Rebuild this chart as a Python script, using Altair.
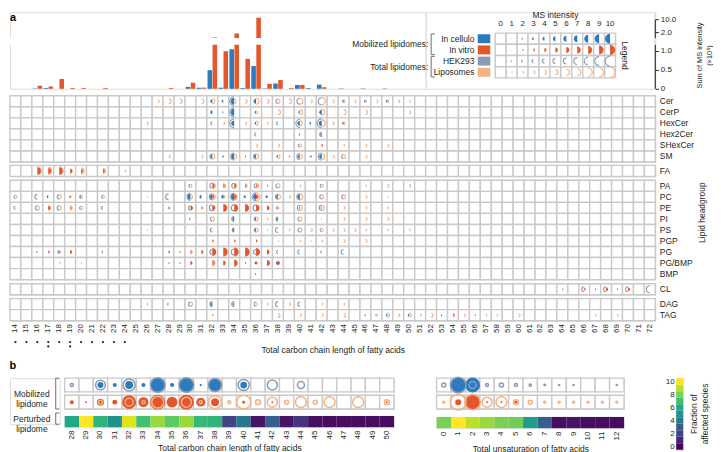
import altair as alt
import pandas as pd

# ------------------------------------------------------------------ data
CARBONS = list(range(14, 73))
GROUPS = [
    ["Cer", "CerP", "HexCer", "Hex2Cer", "SHexCer", "SM"],
    ["FA"],
    ["PA", "PC", "PE", "PI", "PS", "PGP", "PG", "PG/BMP", "BMP"],
    ["CL"],
    ["DAG", "TAG"],
]

# summed MS intensity (x10^8) per total carbon length
BAR_CELLULO = {16: 0.01, 17: 0.02, 30: 0.05, 31: 0.03, 32: 0.49, 33: 0.03, 34: 1.04, 35: 0.02,
               36: 0.60, 37: 0.01, 38: 0.14, 40: 0.10, 41: 0.02, 42: 0.11, 44: 0.01, 46: 0.01, 48: 0.01}
BAR_VITRO = {16: 0.08, 17: 0.06, 18: 0.26, 19: 0.02, 20: 0.02, 22: 0.02, 28: 0.02, 30: 0.16,
             31: 0.03, 32: 1.56, 33: 0.99, 34: 1.91, 35: 0.79, 36: 10.9, 37: 0.13, 38: 0.23,
             39: 0.02, 40: 0.10, 42: 0.04}
BAR_TICKS = [0, 0.5, 1, 2, 10]
AXIS_SEGMENTS = [(0, 1.16), (1.5, 10)]   # broken y axis

# MS intensity level (0-10) per headgroup and carbon length
CELLULO = {
    "Cer": [(32, 4), (33, 3), (34, 7), (36, 5), (44, 3), (46, 3), (48, 3)],
    "CerP": [(32, 4), (33, 2), (34, 7), (36, 3), (40, 3), (42, 5)],
    "HexCer": [(34, 6), (36, 3), (40, 5), (41, 3), (42, 6), (44, 3)],
    "Hex2Cer": [(40, 2), (42, 3)],
    "SM": [(32, 4), (33, 2), (34, 6), (36, 4), (38, 3), (40, 4), (41, 2), (42, 5)],
    "PC": [(17, 3), (19, 2), (20, 2), (30, 6), (31, 4), (32, 5), (33, 4), (34, 7), (35, 3),
           (36, 6), (37, 3), (38, 4), (40, 5)],
    "PE": [(40, 2), (42, 2)],
    "PI": [(34, 4), (36, 3), (38, 4), (42, 1)],
    "PS": [(34, 4), (36, 3)],
    "PG": [(16, 2)],
    "PG/BMP": [(36, 3), (38, 4)],
    "BMP": [(36, 2)],
    "DAG": [(32, 4), (34, 3)],
    "TAG": [(46, 2), (47, 2), (48, 3), (50, 3), (53, 2)],
}
VITRO = {
    "SHexCer": [(42, 3)],
    "SM": [(33, 2), (35, 2), (39, 2), (41, 2)],
    "FA": [(16, 8), (17, 6), (18, 8), (19, 5), (20, 4), (22, 4)],
    "PA": [(32, 5), (33, 4), (34, 5), (35, 3), (36, 3), (37, 2)],
    "PC": [(19, 2), (32, 4), (33, 3), (34, 5), (35, 2), (36, 5), (37, 2)],
    "PE": [(17, 5), (19, 3), (28, 3), (30, 5), (31, 3), (32, 6), (33, 8), (34, 8), (35, 8),
           (36, 7), (37, 5), (38, 2)],
    "PGP": [(32, 3), (34, 3), (36, 3)],
    "PG": [(17, 3), (18, 3), (19, 4), (28, 3), (29, 2), (30, 4), (31, 4), (32, 8), (33, 9),
           (34, 9), (35, 9), (36, 8), (37, 5)],
    "PG/BMP": [(28, 2), (29, 2), (30, 4), (32, 6), (33, 5), (34, 7), (35, 2), (36, 3), (37, 6), (38, 4)],
    "CL": [(64, 2), (66, 3), (67, 2), (68, 4), (69, 2), (70, 4)],
    "TAG": [(32, 2), (54, 4), (56, 2)],
}
HEK = {
    "Cer": [(34, 9), (38, 4), (40, 6), (42, 7)],
    "CerP": [(34, 9)],
    "HexCer": [(32, 3), (34, 9), (38, 3), (40, 8), (42, 9)],
    "Hex2Cer": [(36, 3), (42, 4)],
    "SHexCer": [(40, 3)],
    "SM": [(32, 5), (34, 7), (36, 5), (40, 6), (42, 7), (44, 4)],
    "PA": [(30, 3), (32, 5), (34, 5), (36, 4), (38, 4), (42, 3)],
    "PC": [(14, 3), (16, 5), (18, 4), (20, 3), (22, 3), (28, 6), (30, 7), (32, 6), (34, 7),
           (36, 8), (38, 5), (40, 6), (42, 4), (44, 4)],
    "PE": [(14, 3), (16, 4), (18, 4), (20, 3), (22, 3), (30, 4), (32, 6), (34, 6), (36, 6),
           (38, 3), (40, 5), (42, 5)],
    "PI": [(30, 2), (32, 4), (34, 5), (36, 4), (38, 4), (40, 4)],
    "PS": [(32, 4), (34, 4), (36, 4), (38, 5), (40, 4), (42, 3)],
    "PG": [(18, 3), (22, 2), (32, 5), (34, 6), (36, 5), (38, 3), (40, 4), (42, 2), (44, 5)],
    "CL": [(66, 5), (68, 5), (70, 5), (72, 7)],
    "DAG": [(28, 2), (30, 4), (32, 5), (34, 5), (36, 4), (38, 5), (40, 4)],
}
LIPO = {
    "Cer": [(27, 3), (28, 5), (29, 5), (31, 5), (32, 5), (34, 4), (35, 4), (36, 6), (37, 4),
            (38, 4), (39, 5), (40, 6), (41, 3), (42, 7), (43, 3), (44, 3), (45, 3), (46, 2),
            (47, 3), (48, 3), (49, 3), (50, 2)],
    "CerP": [(36, 3), (38, 5), (40, 5), (42, 6), (44, 5), (46, 4), (50, 3)],
    "HexCer": [(26, 3), (33, 3), (35, 3), (36, 4), (37, 2), (40, 5), (42, 7), (43, 3), (44, 3)],
    "SHexCer": [(36, 3), (38, 3), (40, 3), (44, 2), (46, 3), (48, 3)],
    "SM": [(28, 3), (31, 3), (32, 5), (34, 5), (36, 5), (38, 4), (40, 5), (42, 6), (43, 3),
           (44, 4), (46, 3)],
    "FA": [(16, 8), (17, 7), (18, 8), (20, 6), (22, 5), (24, 2)],
    "PA": [(30, 3), (32, 6), (33, 4), (34, 5), (35, 4), (36, 5), (38, 4), (40, 2), (42, 3),
           (46, 2), (48, 3), (50, 3)],
    "PC": [(14, 3), (18, 4), (19, 2), (20, 3), (22, 3), (26, 1), (30, 4), (32, 6), (33, 3),
           (34, 6), (36, 8), (38, 5), (39, 3), (40, 6), (42, 4), (44, 4), (46, 3), (48, 1)],
    "PE": [(16, 4), (18, 4), (19, 4), (20, 3), (40, 5), (42, 5), (44, 3), (46, 3), (48, 2)],
    "PI": [(32, 4), (36, 4), (37, 2), (40, 4), (44, 3), (46, 3), (48, 3)],
    "PS": [(26, 1), (36, 4), (37, 1), (39, 2), (40, 4), (41, 3), (42, 3), (43, 3), (44, 3),
           (45, 3), (46, 2), (48, 2), (50, 2)],
    "PGP": [(38, 1), (40, 2), (41, 1), (42, 2), (44, 3), (46, 3)],
    "PG": [(30, 3)],
    "PG/BMP": [(18, 2), (20, 1), (32, 4)],
    "DAG": [(26, 2), (30, 4), (36, 3), (37, 2), (39, 3), (42, 2), (44, 2)],
    "TAG": [(38, 4), (40, 3), (42, 3), (44, 4), (47, 2), (48, 4), (49, 3), (50, 4), (51, 2),
            (52, 4), (54, 3), (55, 3), (57, 2), (58, 2), (60, 3), (67, 2), (69, 2)],
}

DOT_CARBONS = list(range(14, 25))
DOUBLE_DOT_CARBONS = [17, 19]

LEG_LEVELS = list(range(0, 11))
LEG_LABELS = ["In cellulo", "In vitro", "HEK293", "Liposomes"]
LEG_GROUPS = ["Mobilized lipidomes:", "Total lipidomes:"]

# panel b
B_CARBON = list(range(28, 51))
B_C_CELLULO = [0, 0, 4, 2.7, 5.3, 2.7, 9.5, 2.7, 9.5, 1.5, 8.5, 0, 4.5, 0, 0, 0, 0, 0, 0, 0, 0, 0, 0]
B_C_HEK = [2, 0, 6.5, 0, 8, 0, 9.8, 0, 9.8, 0, 8.8, 0, 7.5, 0, 6.7, 0, 4.7, 0, 0, 0, 0, 0, 0]
B_C_VITRO = [2.7, 1.3, 4.7, 3.3, 9.3, 6.7, 10, 7.3, 10, 6, 5.3, 0, 2, 0, 1.3, 0, 0, 0, 0, 0, 0, 0, 1.3]
B_C_LIPO = [0, 0, 2.7, 0, 5.3, 2, 8, 0, 6.7, 2, 8.7, 2, 9.3, 3.3, 6.7, 2.7, 7.3, 2.7, 7.3, 0, 7.3, 0, 3.3]
B_C_HEAT = [6, 10, 6.5, 5, 9.5, 7, 8.5, 7.5, 8.5, 6.7, 6.5, 2, 4, 0.5, 3, 0.5, 1.5, 0.3, 0.3, 0.3, 0.3, 0.3, 0.3]

B_UNSAT = list(range(0, 13))
B_U_CELLULO = [0, 10, 10, 0, 0, 0, 0, 0, 0, 0, 0, 0, 0]
B_U_HEK = [2.7, 10.5, 4.7, 2, 2.7, 2, 1.5, 1, 0.8, 0.8, 0, 0, 0.8]
B_U_VITRO = [0, 4, 10, 1.3, 1.3, 2, 0, 0, 0, 0, 0, 0, 0]
B_U_LIPO = [1.3, 10.5, 10.3, 6.7, 7.3, 3.3, 2.7, 1.3, 1.3, 1.3, 1.3, 1.3, 1.3]
B_U_HEAT = [8, 10, 9, 8.5, 8, 7.8, 5.5, 3, 0.3, 0.5, 0.3, 0.3, 0.3]

# ------------------------------------------------------------------ style / layout
TXT = "#231f20"
GRID = "#c9c9c9"
BRC = "#6d6e71"
SERIES = ["cellulo", "vitro", "hek", "lipo"]
SERIES_COLORS = ["#2c7bbf", "#e4572e", "#8a9bb5", "#f4b183"]
LEFT_DISC = "M 0 -1 A 1 1 0 0 0 0 1 Z"
RIGHT_DISC = "M 0 -1 A 1 1 0 0 1 0 1 Z"
LEFT_ARC = "M 0 -1 A 1 1 0 0 0 0 1"
RIGHT_ARC = "M 0 -1 A 1 1 0 0 1 0 1"

CW = 11.0
W = CW * len(CARBONS)
RH = 11.1
TOP_H = 77
SPLIT = 51.5                       # bars drawn left of this carbon value, legend to the right
BARS_W = (SPLIT - (CARBONS[0] - 0.5)) * CW
LEG_W = W - BARS_W - 1

COLOR_S = alt.Scale(domain=SERIES, range=SERIES_COLORS)
SHAPE_S = alt.Scale(domain=SERIES, range=[LEFT_DISC, RIGHT_DISC, LEFT_ARC, RIGHT_ARC])
SIZE_A = alt.Scale(type="pow", exponent=2, domain=[0, 10], range=[0, 100])
SIZE_B = alt.Scale(type="pow", exponent=2, domain=[0, 10], range=[0, 225])
VIR = alt.Scale(scheme="viridis", domain=[0, 10])
XC_SCALE = alt.Scale(domain=CARBONS, paddingInner=0, paddingOuter=0)
XQ = alt.Scale(domain=[CARBONS[0] - 0.5, SPLIT], zero=False, nice=False)
# piecewise linear scale: broken bar axis (0..1.16 | 1.5..11)
YBAR = alt.Scale(domain=[0, 1.16, 1.5, 2, 10, 11], range=[77, 32.7, 26, 20.3, 7.3, 5.3],
                 zero=False, nice=False)
LX = alt.Scale(domain=[-0.5, 10.5], range=[488 - BARS_W, 609 - BARS_W], zero=False, nice=False)
LY = alt.Scale(domain=[0, 4], range=[21, 66], zero=False, nice=False)


def glyph_frame(rows):
    recs = []
    for key, table in (("cellulo", CELLULO), ("vitro", VITRO), ("hek", HEK), ("lipo", LIPO)):
        for row in rows:
            for c, lvl in table.get(row, []):
                recs.append({"row": row, "carbon": c, "series": key, "level": lvl})
    return pd.DataFrame(recs, columns=["row", "carbon", "series", "level"])


def XD(v):
    return alt.XDatum(v, type="quantitative", scale=LX, axis=None)


def YD(v):
    return alt.YDatum(v, type="quantitative", scale=LY, axis=None)


one = pd.DataFrame({"k": [0]})

# ------------------------------------------------------------------ top: bars
bar_df = pd.DataFrame(
    [{"carbon": c, "series": "cellulo", "value": v} for c, v in BAR_CELLULO.items()]
    + [{"carbon": c, "series": "vitro", "value": v} for c, v in BAR_VITRO.items()]
)
BAR_AXIS = alt.Axis(orient="right", values=BAR_TICKS,
                    labelExpr="datum.value == 0 ? '0' : format(datum.value, '.1f')",
                    tickSize=3, tickColor=TXT, domain=False, labelPadding=2, labelFontSize=8,
                    labelColor=TXT, grid=False,
                    title=["Sum of MS intensity", "(×10⁸)"], titleAngle=270, titleX=44, titleY=43,
                    titleAlign="center", titleBaseline="middle", titleFontSize=7.5,
                    titleFontWeight="normal", titleColor=TXT, titleLineHeight=10)
bars = alt.Chart(bar_df).transform_calculate(
    x0="datum.carbon + (datum.series == 'cellulo' ? -0.44 : 0.02)",
    x1="datum.carbon + (datum.series == 'cellulo' ? -0.02 : 0.44)",
).mark_rect().encode(
    x=alt.X("x0:Q", scale=XQ, axis=None), x2="x1:Q",
    y=alt.Y("value:Q", scale=YBAR, axis=None), y2=alt.Y2Datum(0),
    color=alt.Color("series:N", scale=COLOR_S, legend=None),
)
band = alt.Chart(pd.DataFrame({"lo": [AXIS_SEGMENTS[0][1]], "hi": [AXIS_SEGMENTS[1][0]],
                               "c0": [CARBONS[0] - 0.5], "c1": [SPLIT]})).mark_rect(
    color="white").encode(
    y=alt.Y("lo:Q", scale=YBAR, axis=None), y2="hi:Q",
    x=alt.X("c0:Q", scale=XQ, axis=None), x2="c1:Q",
)
a_lab = alt.Chart(one).mark_text(text="a", fontSize=11, fontWeight="bold", color="black",
                                 align="left", baseline="top").encode(x=alt.value(0), y=alt.value(0))
bars_chart = alt.layer(bars, band, a_lab).properties(width=BARS_W, height=TOP_H)

axis_chart = alt.Chart(pd.DataFrame(AXIS_SEGMENTS, columns=["lo", "hi"])).mark_rule(
    color=TXT, strokeWidth=1).encode(
    x=alt.value(1), y=alt.Y("lo:Q", scale=YBAR, axis=BAR_AXIS), y2="hi:Q"
).properties(width=1, height=TOP_H)

# ------------------------------------------------------------------ top: legend
leg_cells_df = pd.DataFrame([{"level": l, "r": i} for i in range(4) for l in LEG_LEVELS])
leg_cells = alt.Chart(leg_cells_df).transform_calculate(
    x0="datum.level - 0.5", x1="datum.level + 0.5", y1="datum.r + 1"
).mark_rect(fill="white", stroke=GRID, strokeWidth=1.4).encode(
    x=alt.X("x0:Q", scale=LX, axis=None), x2="x1:Q",
    y=alt.Y("r:Q", scale=LY, axis=None), y2="y1:Q",
)
leg_pts_df = pd.DataFrame([{"level": l, "r": i, "series": s}
                           for i, s in enumerate(SERIES) for l in LEG_LEVELS if l > 0])


def leg_points(keys, filled):
    d = leg_pts_df[leg_pts_df.series.isin(keys)]
    m = alt.Chart(d).transform_calculate(yc="datum.r + 0.5")
    m = m.mark_point(filled=True, opacity=1, strokeWidth=0) if filled else \
        m.mark_point(filled=False, opacity=1, strokeWidth=1.1)
    return m.encode(
        x=alt.X("level:Q", scale=LX, axis=None), y=alt.Y("yc:Q", scale=LY, axis=None),
        color=alt.Color("series:N", scale=COLOR_S, legend=None),
        shape=alt.Shape("series:N", scale=SHAPE_S, legend=None),
        size=alt.Size("level:Q", scale=SIZE_A, legend=None),
    )


sw_df = pd.DataFrame({"series": SERIES, "r": [0, 1, 2, 3], "lab": LEG_LABELS})
swatch = alt.Chart(sw_df).transform_calculate(y0="datum.r + 0.1", y1="datum.r + 0.9").mark_rect().encode(
    x=XD(-2.1), x2=alt.X2Datum(-0.95),
    y=alt.Y("y0:Q", scale=LY, axis=None), y2="y1:Q",
    color=alt.Color("series:N", scale=COLOR_S, legend=None),
)
sw_lab = alt.Chart(sw_df).transform_calculate(yc="datum.r + 0.5").mark_text(
    align="right", baseline="middle", fontSize=8.5, color=TXT).encode(
    x=XD(-2.4), y=alt.Y("yc:Q", scale=LY, axis=None), text="lab:N",
)
nums = alt.Chart(pd.DataFrame({"level": LEG_LEVELS})).mark_text(
    fontSize=8, color=TXT, baseline="middle").encode(
    x=alt.X("level:Q", scale=LX, axis=None), y=YD(-0.8), text="level:Q",
)
ms_title = alt.Chart(one).mark_text(text="MS intensity", fontSize=8.5, color=TXT,
                                    baseline="middle").encode(x=XD(5), y=YD(-1.65))
leg_word = alt.Chart(one).mark_text(text="Legend", fontSize=8.5, color=TXT, angle=90,
                                    baseline="middle").encode(x=XD(11.4), y=YD(2))
grp_df = pd.DataFrame({"g": [0, 1], "lab": LEG_GROUPS})
grp_lab = alt.Chart(grp_df).transform_calculate(yc="datum.g * 2 + 1").mark_text(
    align="right", baseline="middle", fontSize=8.5, color=TXT).encode(
    x=XD(-6.62), y=alt.Y("yc:Q", scale=LY, axis=None), text="lab:N",
)
br_base = alt.Chart(grp_df).transform_calculate(y0="datum.g * 2 + 0.08", y1="datum.g * 2 + 1.92")
br_v = br_base.mark_rule(color=BRC, strokeWidth=1).encode(
    x=XD(-6.36), y=alt.Y("y0:Q", scale=LY, axis=None), y2="y1:Q")
br_t = br_base.mark_rule(color=BRC, strokeWidth=1).encode(
    x=XD(-6.36), x2=alt.X2Datum(-6.02), y=alt.Y("y0:Q", scale=LY, axis=None))
br_b = br_base.mark_rule(color=BRC, strokeWidth=1).encode(
    x=XD(-6.36), x2=alt.X2Datum(-6.02), y=alt.Y("y1:Q", scale=LY, axis=None))

legend_chart = alt.layer(leg_cells, leg_points(["cellulo", "vitro"], True),
                         leg_points(["hek", "lipo"], False), swatch, sw_lab, nums, ms_title,
                         leg_word, grp_lab, br_v, br_t, br_b).properties(width=LEG_W, height=TOP_H)

top = alt.hconcat(bars_chart, legend_chart, axis_chart, spacing=0, bounds="flush")


# ------------------------------------------------------------------ grid groups
def group_chart(rows, title_axis=False, last=False):
    yaxis = dict(orient="right", ticks=False, domain=False, labelPadding=4, labelFontSize=8.5,
                 labelColor=TXT, title=None)
    if title_axis:
        yaxis.update(title="Lipid headgroup", titleAngle=270, titleX=46, titleY=32,
                     titleAlign="center", titleBaseline="middle", titleFontSize=8.5,
                     titleColor=TXT, titleFontWeight="normal")
    Y = alt.Y("row:N", scale=alt.Scale(domain=rows, paddingInner=0, paddingOuter=0),
              axis=alt.Axis(**yaxis))
    if last:
        xaxis = alt.Axis(labelAngle=270, ticks=False, domain=False, labelPadding=3, labelFontSize=8,
                         labelColor=TXT, title="Total carbon chain length of fatty acids",
                         titlePadding=13, titleFontSize=8.5, titleFontWeight="normal", titleColor=TXT)
    else:
        xaxis = None
    X = alt.X("carbon:O", scale=XC_SCALE, axis=xaxis)
    cells_df = pd.DataFrame([{"row": r, "carbon": c} for r in rows for c in CARBONS])
    cells = alt.Chart(cells_df).mark_rect(fill="white", stroke=GRID, strokeWidth=1.4).encode(x=X, y=Y)
    g = glyph_frame(rows)
    enc = dict(
        x=X, y=Y,
        color=alt.Color("series:N", scale=COLOR_S, legend=None),
        shape=alt.Shape("series:N", scale=SHAPE_S, legend=None),
        size=alt.Size("level:Q", scale=SIZE_A, legend=None),
    )
    fills = alt.Chart(g[g.series.isin(["cellulo", "vitro"])]).mark_point(
        filled=True, opacity=1, strokeWidth=0).encode(**enc)
    rings = alt.Chart(g[g.series.isin(["hek", "lipo"])]).mark_point(
        filled=False, opacity=1, strokeWidth=1.1).encode(**enc)
    layers = [cells, fills, rings]
    if last:
        h = RH * len(rows)
        d1 = alt.Chart(pd.DataFrame({"carbon": DOT_CARBONS})).mark_circle(
            size=5, color="#222222", opacity=1).encode(x=X, y=alt.value(h + 21.5))
        d2 = alt.Chart(pd.DataFrame({"carbon": DOUBLE_DOT_CARBONS})).mark_circle(
            size=5, color="#222222", opacity=1).encode(x=X, y=alt.value(h + 25.9))
        layers += [d1, d2]
    return alt.layer(*layers).properties(width=W, height=RH * len(rows))


groups = [group_chart(rows, title_axis=(i == 2), last=(i == len(GROUPS) - 1))
          for i, rows in enumerate(GROUPS)]
grid_block = alt.vconcat(top, *groups, spacing=0)


# ------------------------------------------------------------------ panel b
def b_panel(xvals, cel, hek, vit, lip, heat, cell_w, title):
    width = cell_w * len(xvals)
    sc = alt.Scale(domain=xvals, paddingInner=0, paddingOuter=0)
    X0 = alt.X("x:O", scale=sc, axis=None)
    Yb = alt.Y("brow:N", scale=alt.Scale(domain=["r1", "r2"], paddingInner=0.2, paddingOuter=0),
               axis=None)
    cells_df = pd.DataFrame([{"x": x, "brow": b} for b in ["r1", "r2"] for x in xvals])
    cells = alt.Chart(cells_df).mark_rect(fill="white", stroke=GRID, strokeWidth=1.4).encode(x=X0, y=Yb)
    recs = []
    for i, x in enumerate(xvals):
        recs.append({"x": x, "brow": "r1", "series": "cellulo", "val": cel[i]})
        recs.append({"x": x, "brow": "r1", "series": "hek", "val": hek[i]})
        recs.append({"x": x, "brow": "r2", "series": "vitro", "val": vit[i]})
        recs.append({"x": x, "brow": "r2", "series": "lipo", "val": lip[i]})
    gd = pd.DataFrame(recs)
    gd = gd[gd.val > 0]
    enc = dict(x=X0, y=Yb, color=alt.Color("series:N", scale=COLOR_S, legend=None),
               size=alt.Size("val:Q", scale=SIZE_B, legend=None))
    fills = alt.Chart(gd[gd.series.isin(["cellulo", "vitro"])]).mark_point(
        shape="circle", filled=True, opacity=1, strokeWidth=0).encode(**enc)
    rings = alt.Chart(gd[gd.series.isin(["hek", "lipo"])]).mark_point(
        shape="circle", filled=False, opacity=1, strokeWidth=1.5).encode(**enc)
    circ = alt.layer(cells, fills, rings).properties(width=width, height=31)
    Xh = alt.X("x:O", scale=sc, axis=alt.Axis(labelAngle=270, ticks=False, domain=False, labelPadding=3,
                                              labelFontSize=8, labelColor=TXT, title=title,
                                              titlePadding=5, titleFontSize=8.5,
                                              titleFontWeight="normal", titleColor=TXT))
    heatc = alt.Chart(pd.DataFrame({"x": xvals, "v": heat})).mark_rect().encode(
        x=Xh, fill=alt.Fill("v:Q", scale=VIR, legend=None)).properties(width=width, height=11.3)
    return alt.vconcat(circ, heatc, spacing=2)


left_b = b_panel(B_CARBON, B_C_CELLULO, B_C_HEK, B_C_VITRO, B_C_LIPO, B_C_HEAT, 14.4,
                 "Total carbon chain length of fatty acids")
right_b = b_panel(B_UNSAT, B_U_CELLULO, B_U_HEK, B_U_VITRO, B_U_LIPO, B_U_HEAT, 14.5,
                  "Total unsaturation of fatty acids")

lab_m = alt.Chart(one).mark_text(text=["Mobilized", "lipidome"], fontSize=8.5, color=TXT,
                                 align="center", baseline="middle", lineHeight=10.5).encode(
    x=alt.value(22), y=alt.value(15.5))
lab_p = alt.Chart(one).mark_text(text=["Perturbed", "lipidome"], fontSize=8.5, color=TXT,
                                 align="center", baseline="middle", lineHeight=10.5).encode(
    x=alt.value(22), y=alt.value(40.6))
brs = [
    alt.Chart(one).mark_rule(color=BRC).encode(x=alt.value(46), y=alt.value(0), y2=alt.value(31)),
    alt.Chart(one).mark_rule(color=BRC).encode(x=alt.value(46), x2=alt.value(49.5), y=alt.value(0)),
    alt.Chart(one).mark_rule(color=BRC).encode(x=alt.value(46), x2=alt.value(49.5), y=alt.value(31)),
    alt.Chart(one).mark_rule(color=BRC).encode(x=alt.value(46), y=alt.value(35), y2=alt.value(46.3)),
    alt.Chart(one).mark_rule(color=BRC).encode(x=alt.value(46), x2=alt.value(49.5), y=alt.value(35)),
    alt.Chart(one).mark_rule(color=BRC).encode(x=alt.value(46), x2=alt.value(49.5), y=alt.value(46.3)),
]
label_b = alt.layer(lab_m, lab_p, *brs).properties(width=50, height=46.3)

cb_df = pd.DataFrame({"lvl": LEG_LEVELS})
CBY = alt.Scale(domain=[-0.5, 10.5], zero=False, nice=False)
cb1 = alt.Chart(cb_df).transform_calculate(y0="datum.lvl - 0.5", y1="datum.lvl + 0.5").mark_rect().encode(
    y=alt.Y("y0:Q", scale=CBY,
            axis=alt.Axis(orient="left", values=LEG_LEVELS, format="d", ticks=False, domain=False,
                          labelPadding=2, labelFontSize=8, labelColor=TXT, title=None, grid=False)),
    y2="y1:Q",
    fill=alt.Fill("lvl:Q", scale=VIR, legend=None))
cb_title = alt.Chart(one).mark_text(text=["Fraction of", "affected species"], angle=270, fontSize=8.5,
                                    color=TXT, align="center", baseline="middle",
                                    lineHeight=10.5).encode(x=alt.value(18), y=alt.value(36))
cbar = alt.layer(cb1, cb_title).properties(width=7, height=72)

panel_b = alt.hconcat(alt.hconcat(label_b, left_b, spacing=2), right_b, cbar, spacing=39).properties(
    title=alt.TitleParams("b", anchor="start", fontSize=11, fontWeight="bold", offset=3, color="black"))

chart = alt.vconcat(grid_block, panel_b, spacing=4).resolve_scale(
    size="independent", color="independent", shape="independent"
).properties(padding=0).configure_view(stroke=None).configure(font="Liberation Sans")

chart.save("out.html", embed_options={"renderer": "svg", "actions": False})
